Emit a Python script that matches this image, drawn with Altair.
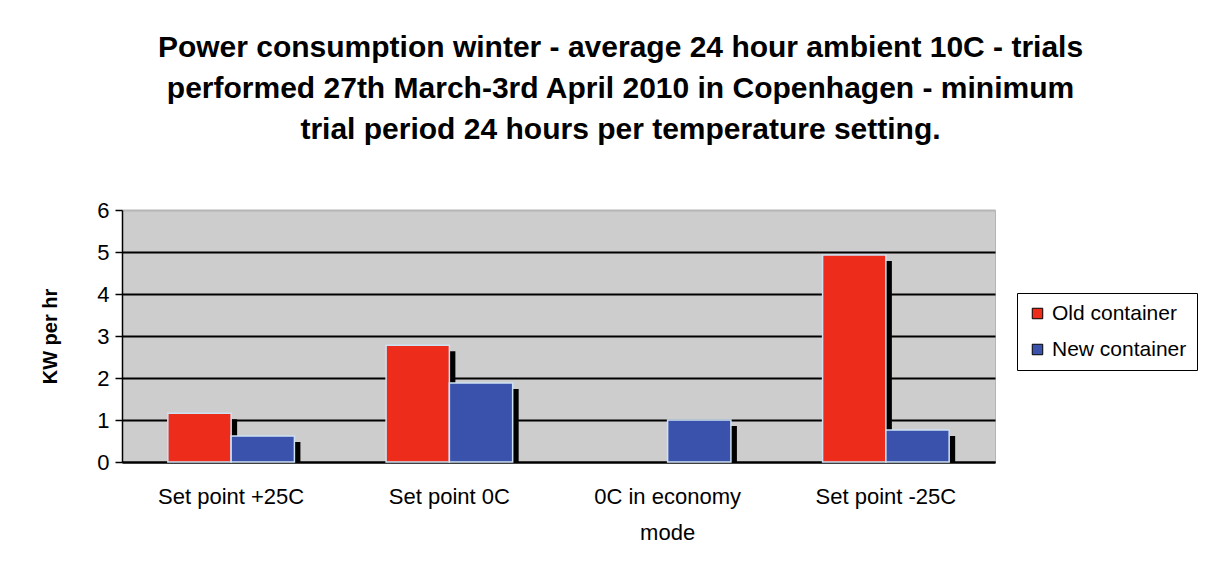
import altair as alt
import pandas as pd

categories = ["Set point +25C", "Set point 0C", "0C in economy mode", "Set point -25C"]
series = ["Old container", "New container"]
old_values = [1.16, 2.78, 0.0, 4.93]
new_values = [0.62, 1.88, 1.0, 0.76]

rows = []
for c, o, n in zip(categories, old_values, new_values):
    rows.append({"cat": c, "series": series[0], "value": o})
    rows.append({"cat": c, "series": series[1], "value": n})
df = pd.DataFrame(rows)

FONT = "Liberation Sans"
W, H = 873, 252
PAD_IN, PAD_OUT = 0.42, 0.21
step = W / (len(categories) - PAD_IN + 2 * PAD_OUT)
band = step * (1 - PAD_IN)

x_enc = alt.X("cat:N", sort=categories, title=None,
              scale=alt.Scale(paddingInner=PAD_IN, paddingOuter=PAD_OUT),
              axis=alt.Axis(labelAngle=0, labelFontSize=22, labelFont=FONT, labelColor="black",
                            labelPadding=24, labelLineHeight=36, ticks=False,
                            domainColor="black", domainWidth=2,
                            labelExpr="datum.label == '0C in economy mode' ? ['0C in economy', 'mode'] : datum.label"))
y_enc = alt.Y("value:Q", title="KW per hr",
              scale=alt.Scale(domain=[0, 6]),
              axis=alt.Axis(values=[0, 1, 2, 3, 4, 5, 6], labelFontSize=22, labelFont=FONT,
                            labelColor="black", titleFont=FONT, titleFontSize=20,
                            titleFontWeight="bold", titleColor="black", titlePadding=36,
                            tickColor="black", tickSize=7, tickWidth=1.5, domainColor="black",
                            domainWidth=1.5, labelPadding=6,
                            gridColor={"condition": {"test": "datum.value == 6", "value": "#b5b5b5"}, "value": "black"},
                            gridWidth=2))

shadow = alt.Chart(df).transform_filter("datum.value > 0").mark_bar(
    color="black", yOffset=6, clip=True).encode(
    x=x_enc,
    xOffset=alt.XOffset("series:N", sort=series, scale=alt.Scale(domain=series, range=[6, band + 6])),
    y=y_enc,
)

bars = alt.Chart(df).transform_filter("datum.value > 0").mark_bar(
    stroke="#cfe2f3", strokeWidth=1.5).encode(
    x=x_enc,
    xOffset=alt.XOffset("series:N", sort=series, scale=alt.Scale(domain=series, range=[0, band])),
    y=y_enc,
    color=alt.Color("series:N", sort=series,
                    scale=alt.Scale(domain=series, range=["#ee2c1c", "#3a52ac"]),
                    legend=alt.Legend(title=None, orient="none", legendX=895, legendY=83,
                                      labelFont=FONT, labelFontSize=21, labelColor="black",
                                      symbolType="square", symbolSize=110,
                                      symbolStrokeColor="black", symbolStrokeWidth=1,
                                      strokeColor="black", padding=10, rowPadding=14,
                                      labelOffset=4, fillColor="white")),
)

chart = alt.layer(shadow, bars).resolve_scale(xOffset="independent").properties(
    width=W, height=H,
    background="white",
    autosize=alt.AutoSizeParams(type="none"),
    padding={"left": 114, "top": 202, "right": 214, "bottom": 100},
    title=alt.TitleParams(
        ["Power consumption winter - average 24 hour ambient 10C - trials",
         "performed 27th March-3rd April 2010 in Copenhagen - minimum",
         "trial period 24 hours per temperature setting."],
        font=FONT, fontSize=30, fontWeight="bold", color="black",
        lineHeight=41, anchor="middle", dx=62, offset=54),
).configure_view(fill="#cdcdcd", stroke="#b5b5b5")

chart.save("out.html", embed_options={"renderer": "svg", "actions": False})
